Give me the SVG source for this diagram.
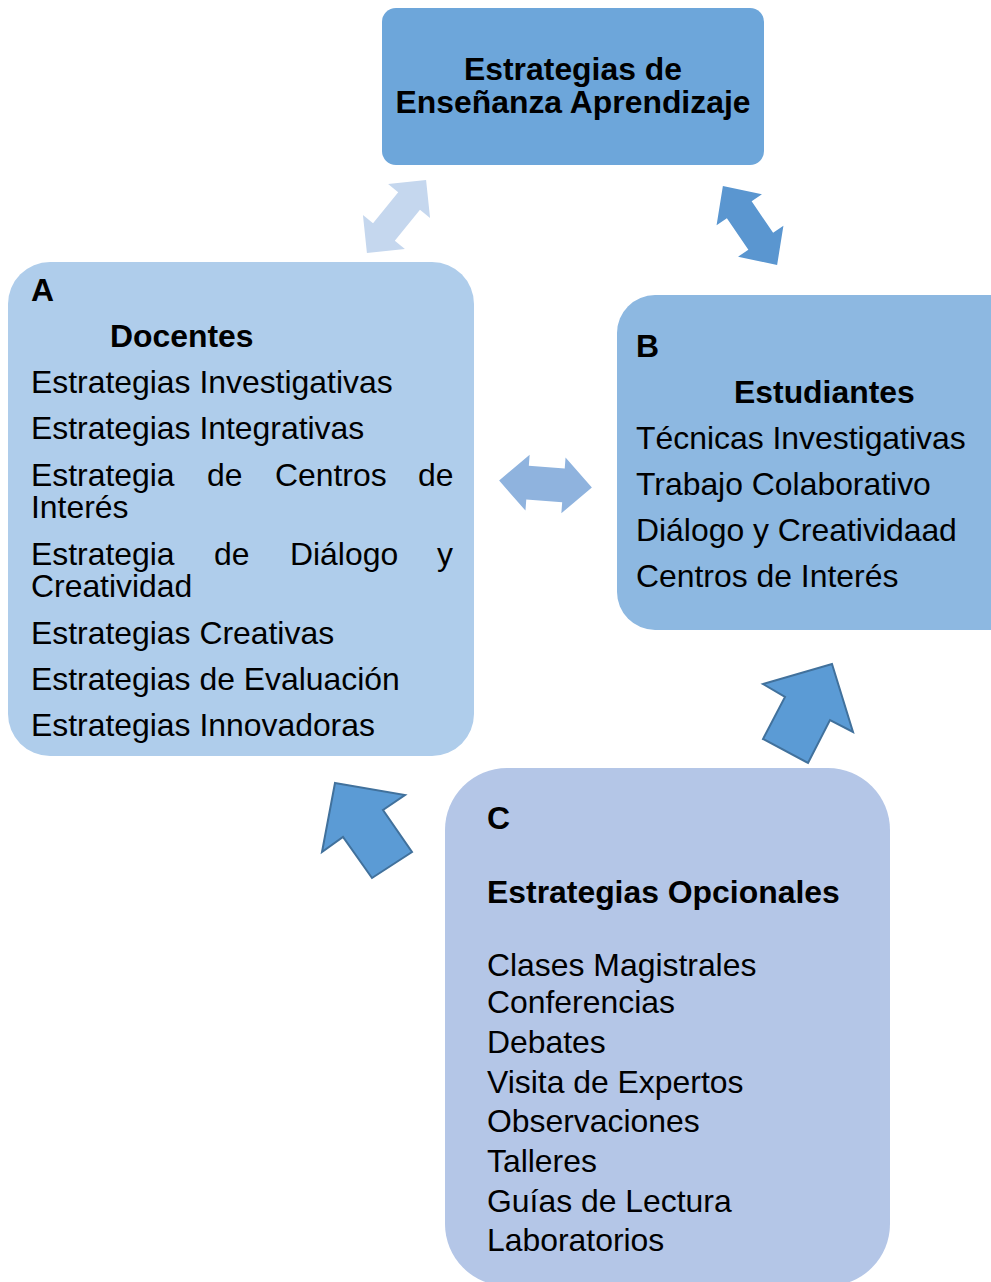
<svg xmlns="http://www.w3.org/2000/svg" width="991" height="1282" viewBox="0 0 991 1282">
<style>
text{font-family:"Liberation Sans",Arial,sans-serif;font-size:31.9px;fill:#000}
.b{font-weight:bold}
.sa{fill:#5b9bd5;stroke:#41719c;stroke-width:2;stroke-linejoin:miter}
</style>
<rect width="991" height="1282" fill="#fff"/>
<g id="connectors">
<polygon fill="#c5d7ee" transform="translate(396.5,216.5) rotate(-51)" points="-47,0 -20,-27 -20,-14 20,-14 20,-27 47,0 20,27 20,14 -20,14 -20,27"/>
<polygon fill="#5a96d0" transform="translate(750,225.5) rotate(55.6)" points="-48,0 -19,-27.5 -19,-15 19,-15 19,-27.5 48,0 19,27.5 19,15 -19,15 -19,27.5"/>
<polygon fill="#8fb3de" transform="translate(545.5,484) rotate(4.3)" points="-46.5,0 -18,-28 -18,-17 18,-17 18,-28 46.5,0 18,28 18,17 -18,17 -18,28"/>
<polygon class="sa" points="832,664 853,732 830,720 808,763 763,739 785,697 763,684"/>
<polygon class="sa" points="335,783 405,795 383,810 412,852 372,878 343,837 322,852"/>
</g>
<g id="top">
<rect x="382" y="8" width="382" height="157" rx="14" fill="#6da6da"/>
<text class="b" x="573" y="80" text-anchor="middle">Estrategias de</text>
<text class="b" x="573" y="113" text-anchor="middle">Enseñanza Aprendizaje</text>
</g>
<g id="docentes">
<rect x="8" y="262" width="466" height="494" rx="42" fill="#afcdeb"/>
<text class="b" x="31" y="301">A</text>
<text class="b" x="110" y="347">Docentes</text>
<text x="31" y="393">Estrategias Investigativas</text>
<text x="31" y="439">Estrategias Integrativas</text>
<text y="486"><tspan x="31">Estrategia</tspan><tspan x="207">de</tspan><tspan x="275">Centros</tspan><tspan x="418">de</tspan></text>
<text x="31" y="518">Interés</text>
<text y="565"><tspan x="31">Estrategia</tspan><tspan x="214">de</tspan><tspan x="290">Diálogo</tspan><tspan x="437">y</tspan></text>
<text x="31" y="597">Creatividad</text>
<text x="31" y="644">Estrategias Creativas</text>
<text x="31" y="690">Estrategias de Evaluación</text>
<text x="31" y="736">Estrategias Innovadoras</text>
</g>
<g id="estudiantes">
<rect x="617" y="295" width="420" height="335" rx="38" fill="#8db8e1"/>
<text class="b" x="636" y="357">B</text>
<text class="b" x="734" y="403">Estudiantes</text>
<text x="636" y="449">Técnicas Investigativas</text>
<text x="636" y="495">Trabajo Colaborativo</text>
<text x="636" y="541">Diálogo y Creatividaad</text>
<text x="636" y="587">Centros de Interés</text>
</g>
<g id="opcionales">
<rect x="445" y="768" width="445" height="518" rx="62" fill="#b4c6e7"/>
<text class="b" x="487" y="829">C</text>
<text class="b" x="487" y="903">Estrategias Opcionales</text>
<text x="487" y="976">Clases Magistrales</text>
<text x="487" y="1013">Conferencias</text>
<text x="487" y="1053">Debates</text>
<text x="487" y="1093">Visita de Expertos</text>
<text x="487" y="1132">Observaciones</text>
<text x="487" y="1172">Talleres</text>
<text x="487" y="1212">Guías de Lectura</text>
<text x="487" y="1251">Laboratorios</text>
</g>
</svg>
